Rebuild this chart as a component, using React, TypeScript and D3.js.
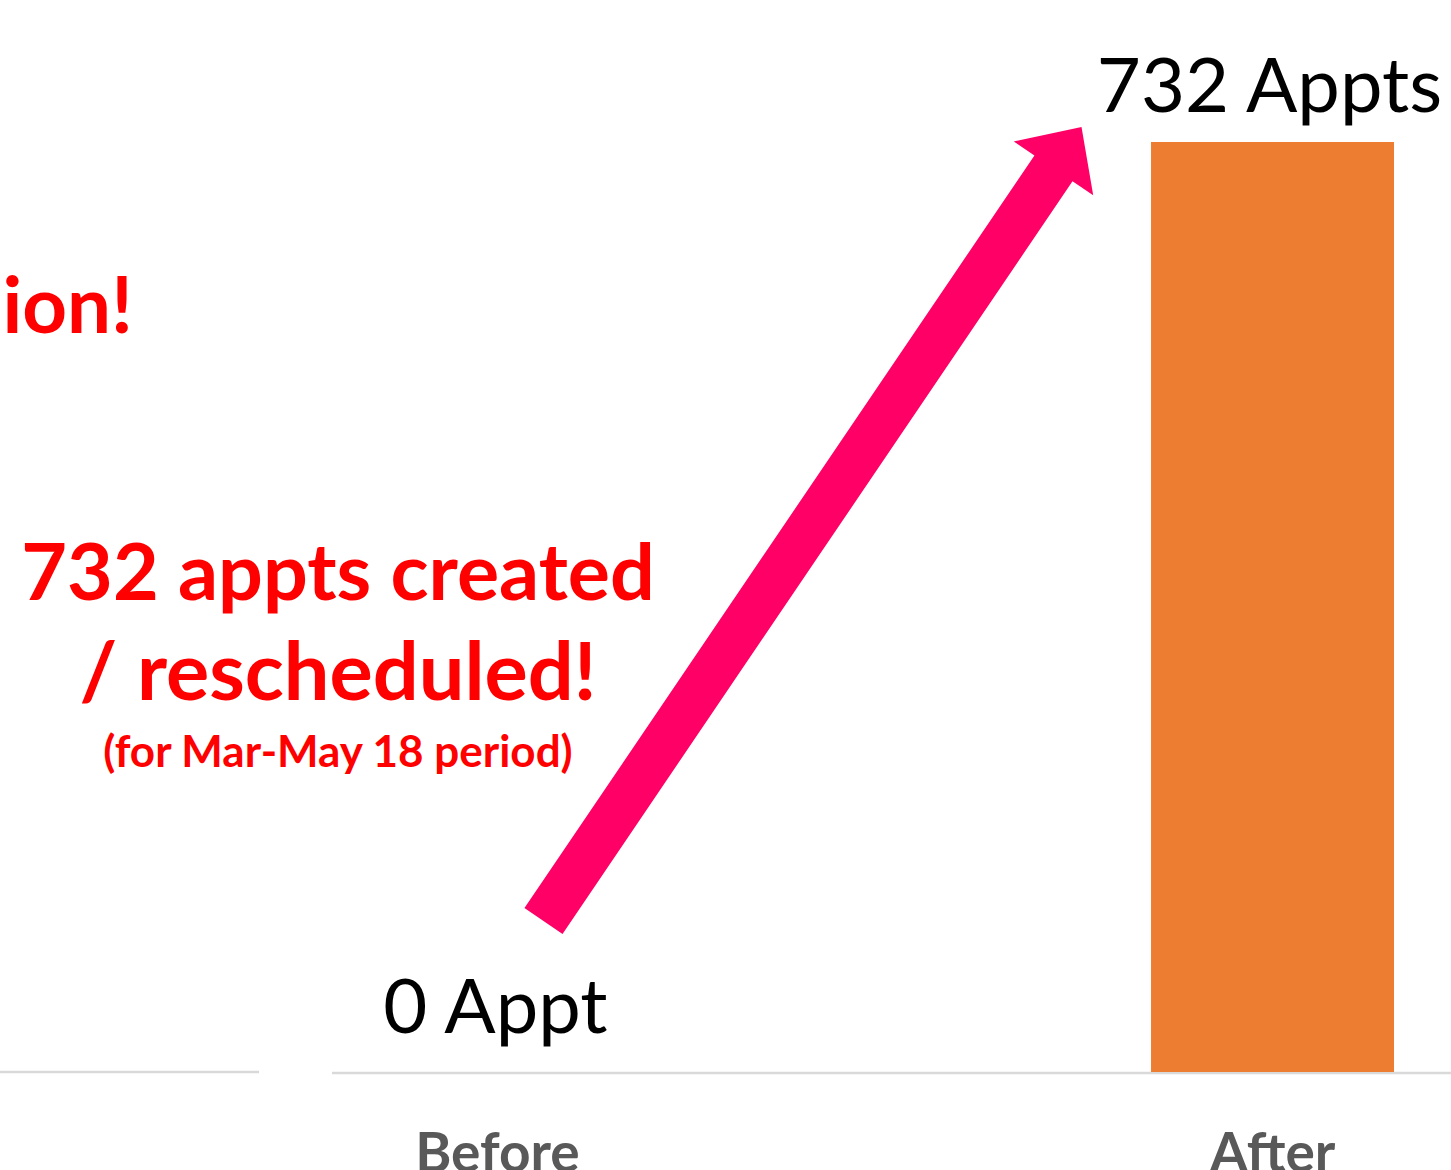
import React from 'react';
import * as d3 from 'd3';

const categories = ['Before', 'After'];
const values = [0, 732];
const valueLabels = ['0 Appt', '732 Appts'];
const calloutLines = ['732 appts created', '/ rescheduled!'];
const calloutSizes = [79, 81];
const calloutNote = '(for Mar-May 18 period)';
const cutText = 'ion!';

const W = 1451;
const H = 1170;
const baseY = 1072;

const App = () => {
    const x = d3.scaleBand()
        .domain(categories)
        .range([376, 1394])
        .paddingInner(0.6865)
        .paddingOuter(0);

    const y = d3.scaleLinear()
        .domain([0, 732])
        .range([baseY, 142]);

    const cx = (c) => x(c) + x.bandwidth() / 2;

    // arrow from the "Before" label up to the "After" bar
    const tail = [cx('Before') + 46, y(0) - 151];
    const tip = [cx('After') - 191, y(732) - 15];
    const dx = tip[0] - tail[0];
    const dy = tip[1] - tail[1];
    const len = Math.hypot(dx, dy);
    const u = [dx / len, dy / len];
    const n = [-u[1], u[0]];
    const shaftW = 46, headW = 96, headL = 50;
    const base = [tip[0] - u[0] * headL, tip[1] - u[1] * headL];
    const pt = (p, k) => [p[0] + n[0] * k, p[1] + n[1] * k];
    const arrow = [
        pt(tail, -shaftW / 2), pt(base, -shaftW / 2), pt(base, -headW / 2),
        tip,
        pt(base, headW / 2), pt(base, shaftW / 2), pt(tail, shaftW / 2)
    ];

    const font = 'Lato, "Open Sans", sans-serif';

    return (
        <svg width={W} height={H} style={{ position: 'absolute', left: 0, top: 0, display: 'block' }}>
            <rect width={W} height={H} fill="#fff" />

            {/* axis line, broken where the text box sits */}
            <line x1={0} x2={259} y1={baseY} y2={baseY} stroke="#d9d9d9" strokeWidth={2.5} />
            <line x1={332} x2={W} y1={baseY + 1} y2={baseY + 1} stroke="#d9d9d9" strokeWidth={2.5} />

            {categories.map((c, i) => (
                <rect key={c} x={x(c)} y={y(values[i])} width={x.bandwidth()}
                    height={y(0) - y(values[i])} fill="#ED7D31" />
            ))}

            {categories.map((c, i) => (
                <text key={'v' + c} x={cx(c) - (i === 0 ? 2 : 3)} y={y(values[i]) - (i === 0 ? 39 : 30)}
                    textAnchor="middle" fontFamily={font} fontSize={76} fill="#000">
                    {valueLabels[i]}
                </text>
            ))}

            {categories.map((c) => (
                <text key={'c' + c} x={cx(c)} y={1172} textAnchor="middle"
                    fontFamily={font} fontWeight={700} fontSize={55} fill="#595959">
                    {c}
                </text>
            ))}

            <polygon points={arrow.map(p => p.join(',')).join(' ')} fill="#FF0066" />

            <text x={133} y={333} textAnchor="end" fontFamily={font} fontWeight={700}
                fontSize={78} fill="#FF0000">{cutText}</text>

            {calloutLines.map((t, i) => (
                <text key={t} x={338} y={600 + i * 100} textAnchor="middle" fontFamily={font}
                    fontWeight={700} fontSize={calloutSizes[i]} fill="#FF0000">{t}</text>
            ))}
            <text x={338} y={767} textAnchor="middle" fontFamily={font} fontWeight={700}
                fontSize={44} fill="#FF0000">{calloutNote}</text>
        </svg>
    );
};

export default App;
